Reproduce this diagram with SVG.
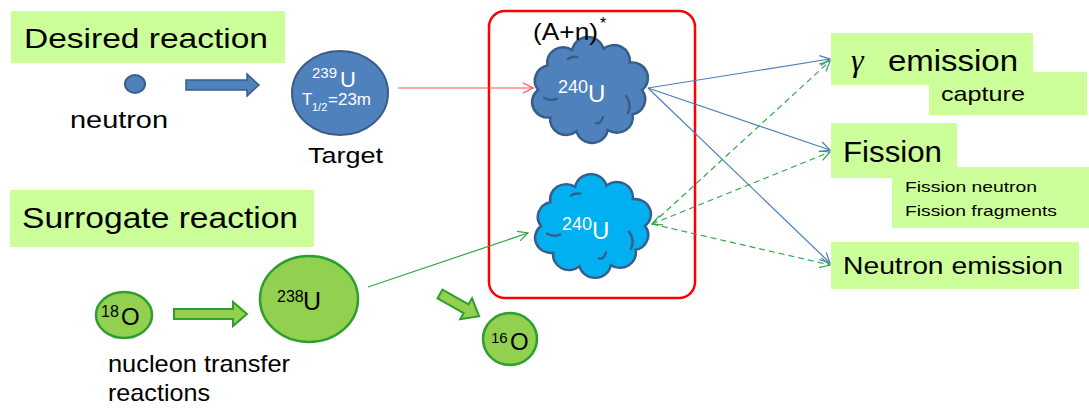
<svg xmlns="http://www.w3.org/2000/svg" width="1089" height="408" viewBox="0 0 1089 408">
<style>
  text { font-family: "Liberation Sans", Arial, sans-serif; fill: #000; }
  .lbl { fill: #CCFF99; stroke: none; }
  .wt { fill: #fff; }
  .bluec { fill: #4F81BD; stroke: #385D8A; stroke-width: 2; }
  .greenc { fill: #92D050; stroke: #2E9E2E; stroke-width: 2.5; }
  .cloudline { fill: none; stroke: #385D8A; stroke-width: 2.5; stroke-linecap: round; }
  .red { stroke: #FF5050; stroke-width: 1.2; fill: none; }
  .blue { stroke: #4A7EBB; stroke-width: 1.2; fill: none; }
  .green { stroke: #2EA84A; stroke-width: 1.2; fill: none; }
  .dash { stroke-dasharray: 6 4; }
  .gam { font-family: "Liberation Serif", "DejaVu Serif", serif; font-style: italic; }
</style>
<defs>
  <marker id="mr" markerUnits="userSpaceOnUse" markerWidth="12" markerHeight="12" refX="11" refY="6" orient="auto-start-reverse"><path d="M1,1 L11,6 L1,11" fill="none" stroke="#FF5050" stroke-width="1.2"/></marker>
  <marker id="mb" markerUnits="userSpaceOnUse" markerWidth="12" markerHeight="12" refX="11" refY="6" orient="auto-start-reverse"><path d="M1,1 L11,6 L1,11" fill="none" stroke="#4A7EBB" stroke-width="1.2"/></marker>
  <marker id="mg" markerUnits="userSpaceOnUse" markerWidth="12" markerHeight="12" refX="11" refY="6" orient="auto-start-reverse"><path d="M1,1 L11,6 L1,11" fill="none" stroke="#2EA84A" stroke-width="1.2"/></marker>
  <path id="cloud" d="M52,0 A16,16 0 0 1 42.6,25.2 A16,16 0 0 1 17.8,41.3 A16,16 0 0 1 -13.5,42.5 A16,16 0 0 1 -39.8,28.3 A16,16 0 0 1 -52,0 A16,16 0 0 1 -42.6,-25.2 A16,16 0 0 1 -17.8,-41.3 A16,16 0 0 1 13.5,-42.5 A16,16 0 0 1 39.8,-28.3 A16,16 0 0 1 52,0 Z"/>
  <path id="cloudin" d="M-46,8 q6,4 13,1 M36,6 q6,8 2,18 M6,34 q4,2 7,-6 M-22,-32 q4,-3 9,-2"/>
</defs>

<g id="desired-label">
  <rect class="lbl" x="11" y="11" width="274" height="52"/>
  <text x="24" y="48" font-size="28" textLength="244" lengthAdjust="spacingAndGlyphs">Desired reaction</text>
</g>

<g id="neutron">
  <ellipse class="bluec" cx="135" cy="84" rx="10" ry="9"/>
  <text x="70" y="128" font-size="24" textLength="98" lengthAdjust="spacingAndGlyphs">neutron</text>
</g>

<g id="target">
  <ellipse class="bluec" cx="340" cy="93" rx="48" ry="42"/>
  <text class="wt"><tspan x="312" y="78" font-size="15" class="wt">239</tspan><tspan x="340" y="87" font-size="22" class="wt">U</tspan></text>
  <text class="wt"><tspan x="302" y="105" font-size="17" class="wt">T</tspan><tspan x="312" y="111" font-size="11" class="wt">1/2</tspan><tspan x="328" y="105" font-size="17" class="wt">=23m</tspan></text>
  <text x="308" y="163" font-size="22" textLength="75" lengthAdjust="spacingAndGlyphs">Target</text>
</g>

<g id="surrogate-label">
  <rect class="lbl" x="10" y="190" width="304" height="57"/>
  <text x="22" y="228" font-size="29" textLength="276" lengthAdjust="spacingAndGlyphs">Surrogate reaction</text>
</g>

<g id="o18">
  <ellipse class="greenc" cx="124" cy="315" rx="28" ry="23"/>
  <text><tspan x="101" y="317" font-size="16">18</tspan><tspan x="121" y="325" font-size="24">O</tspan></text>
  <text x="108" y="372" font-size="24" textLength="182" lengthAdjust="spacingAndGlyphs">nucleon transfer</text>
  <text x="108" y="401" font-size="24" textLength="102" lengthAdjust="spacingAndGlyphs">reactions</text>
</g>

<g id="u238">
  <ellipse class="greenc" cx="309" cy="299" rx="49" ry="43"/>
  <text><tspan x="277" y="302" font-size="16">238</tspan><tspan x="303" y="310" font-size="25">U</tspan></text>
</g>

<g id="o16">
  <ellipse class="greenc" cx="510" cy="339" rx="27" ry="26"/>
  <text><tspan x="491" y="343" font-size="15">16</tspan><tspan x="510" y="350" font-size="24">O</tspan></text>
</g>

<g id="cloud-a">
  <use href="#cloud" transform="translate(590,90) scale(1,0.97)" fill="#4F81BD" stroke="#385D8A" stroke-width="2.5"/>
  <use href="#cloudin" transform="translate(590,90) scale(1,0.97)" class="cloudline"/>
  <text class="wt"><tspan x="558" y="93" font-size="18" class="wt">240</tspan><tspan x="588" y="102" font-size="24" class="wt">U</tspan></text>
</g>

<g id="cloud-b">
  <use href="#cloud" transform="translate(593,226) scale(1,0.95)" fill="#00B0F0" stroke="#385D8A" stroke-width="2.5"/>
  <use href="#cloudin" transform="translate(593,226) scale(1,0.95)" class="cloudline"/>
  <text class="wt"><tspan x="562" y="230" font-size="18" class="wt">240</tspan><tspan x="592" y="239" font-size="24" class="wt">U</tspan></text>
</g>

<g id="compound-box">
  <rect x="489" y="11" width="206" height="287" rx="16" fill="none" stroke="#FF0000" stroke-width="2.5"/>
  <text><tspan x="533" y="40" font-size="24" textLength="65" lengthAdjust="spacingAndGlyphs">(A+n)</tspan><tspan x="600" y="29" font-size="16">*</tspan></text>
</g>

<g id="gamma-emission">
  <rect class="lbl" x="831" y="33" width="202" height="52"/>
  <rect class="lbl" x="929" y="72" width="158" height="43"/>
  <text x="851" y="71" font-size="32" class="gam">γ</text>
  <text x="888" y="71" font-size="30" textLength="130" lengthAdjust="spacingAndGlyphs">emission</text>
  <text x="941" y="101" font-size="21" textLength="84" lengthAdjust="spacingAndGlyphs">capture</text>
</g>

<g id="fission">
  <rect class="lbl" x="831" y="123" width="126" height="55"/>
  <rect class="lbl" x="892" y="167" width="197" height="61"/>
  <text x="843" y="162" font-size="30" textLength="99" lengthAdjust="spacingAndGlyphs">Fission</text>
  <text x="905" y="192" font-size="15" textLength="132" lengthAdjust="spacingAndGlyphs">Fission neutron</text>
  <text x="905" y="216" font-size="15" textLength="152" lengthAdjust="spacingAndGlyphs">Fission fragments</text>
</g>

<g id="neutron-emission">
  <rect class="lbl" x="831" y="242" width="248" height="47"/>
  <text x="843" y="274" font-size="23" textLength="220" lengthAdjust="spacingAndGlyphs">Neutron emission</text>
</g>

<g id="connectors">
  <path d="M186,80 H247 V74 L259,85 L247,96 V90 H186 Z" fill="#4F81BD" stroke="#385D8A" stroke-width="1.5"/>
  <path d="M174,309 H233 V302 L247,314 L233,326 V319 H174 Z" fill="#92D050" stroke="#2E9E2E" stroke-width="2"/>
  <path d="M0,-5 H30 V-12 L45,0 L30,12 V5 H0 Z" transform="translate(440,294) rotate(29.5)" fill="#92D050" stroke="#2E9E2E" stroke-width="2"/>
  <line class="red" x1="398" y1="88" x2="533" y2="88" marker-end="url(#mr)"/>
  <line class="green" x1="368" y1="287" x2="528" y2="233" marker-end="url(#mg)"/>
  <line class="blue" x1="648" y1="88" x2="830" y2="59" marker-end="url(#mb)"/>
  <line class="blue" x1="648" y1="88" x2="830" y2="150" marker-end="url(#mb)"/>
  <line class="blue" x1="648" y1="88" x2="830" y2="263" marker-end="url(#mb)"/>
  <line class="green dash" x1="652" y1="224" x2="830" y2="61" marker-end="url(#mg)"/>
  <line class="green dash" x1="652" y1="224" x2="830" y2="152" marker-start="url(#mg)" marker-end="url(#mg)"/>
  <line class="green dash" x1="652" y1="224" x2="830" y2="265" marker-end="url(#mg)"/>
</g>
</svg>
